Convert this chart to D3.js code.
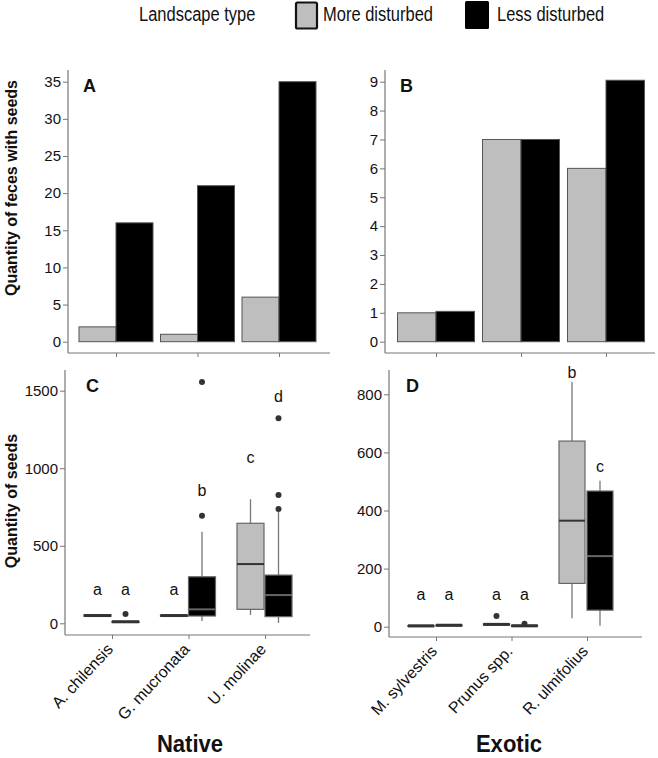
<!DOCTYPE html>
<html lang="en">
<head>
<meta charset="UTF-8">
<title>Seeds in feces</title>
<script src="https://d3js.org/d3.v7.min.js"></script>
<style>
    body { margin: 0; background: #fff; }
    text { font-family: "Liberation Sans", Arial, sans-serif; fill: #111; }
    .tick text { font-size: 15px; }
    .axis path { display: none; }
    .axis line { stroke: #777; }
</style>
</head>
<body>
<script>
    // categories
    let nativeSpecies = ["A. chilensis", "G. mucronata", "U. molinae"];
    let exoticSpecies = ["M. sylvestris", "Prunus spp.", "R. ulmifolius"];
    let landscapes = ["More disturbed", "Less disturbed"];

    // panel A / B: quantity of feces with seeds
    let fecesNativeMore = [2, 1, 6];
    let fecesNativeLess = [16, 21, 35];
    let fecesExoticMore = [1, 7, 6];
    let fecesExoticLess = [1.05, 7, 9.05];

    // panel C / D: quantity of seeds (box stats)
    let seedsNativeMore = [
        {min: 45, q1: 46, med: 50, q3: 54, max: 55, out: []},
        {min: 45, q1: 47, med: 50, q3: 52, max: 52, out: []},
        {min: 54, q1: 90, med: 382, q3: 645, max: 800, out: []}
    ];
    let seedsNativeLess = [
        {min: 6, q1: 8, med: 10, q3: 12, max: 13, out: [60]},
        {min: 15, q1: 47, med: 90, q3: 300, max: 591, out: [694, 1556]},
        {min: 2, q1: 43, med: 182, q3: 311, max: 720, out: [737, 828, 1322]}
    ];
    let seedsExoticMore = [
        {min: 2, q1: 2, med: 3, q3: 4, max: 4, out: []},
        {min: 5, q1: 6, med: 8, q3: 10, max: 10, out: [37]},
        {min: 29, q1: 149, med: 365, q3: 639, max: 843, out: []}
    ];
    let seedsExoticLess = [
        {min: 4, q1: 4, med: 5, q3: 6, max: 6, out: []},
        {min: 1, q1: 2, med: 3, q3: 5, max: 5, out: [10]},
        {min: 3, q1: 57, med: 243, q3: 467, max: 502, out: []}
    ];

    // significance letters: [more, less] and the value where they sit
    let lettersNative = [["a", "a"], ["a", "b"], ["c", "d"]];
    let lettersNativeAt = [[182, 182], [182, 821], [1034, 1428]];
    let lettersExotic = [["a", "a"], ["a", "a"], ["b", "c"]];
    let lettersExoticAt = [[92, 92], [92, 92], [856, 533]];

    let ticksA = d3.range(0, 36, 5);
    let ticksB = d3.range(0, 10, 1);
    let ticksC = [0, 500, 1000, 1500];
    let ticksD = [0, 200, 400, 600, 800];

    let grey = "#bebebe";
    let edge = "#555";

    let svg = d3.select("body").append("svg")
        .attr("width", 658)
        .attr("height", 758);

    // legend (text is a bit tall in the figure)
    let legend = svg.append("g");
    legend.append("text").attr("transform", "translate(139,21) scale(1,1.2)")
        .style("font-size", "16.5px").text("Landscape type");
    legend.append("rect").attr("x", 296).attr("y", 2.5).attr("width", 21).attr("height", 26)
        .attr("rx", 1.5)
        .style("fill", grey).style("stroke", "#111").style("stroke-width", 2.2);
    legend.append("text").attr("transform", "translate(323,21) scale(1,1.2)")
        .style("font-size", "16.5px").text(landscapes[0]);
    legend.append("rect").attr("x", 465).attr("y", 1).attr("width", 24).attr("height", 28)
        .attr("rx", 1.5)
        .style("fill", "#000");
    legend.append("text").attr("transform", "translate(497,21) scale(1,1.2)")
        .style("font-size", "16.5px").text(landscapes[1]);

    function drawAxes(p, ticks) {
        let g = svg.append("g");
        g.append("line").attr("x1", p.left).attr("x2", p.left).attr("y1", p.top).attr("y2", p.bottom)
            .style("stroke", "#777").style("stroke-width", 1.2);
        g.append("line").attr("x1", p.left).attr("x2", p.right).attr("y1", p.bottom).attr("y2", p.bottom)
            .style("stroke", "#777").style("stroke-width", 1.2);
        g.append("g").attr("class", "axis")
            .attr("transform", `translate(${p.left},0)`)
            .call(d3.axisLeft(p.y).tickValues(ticks).tickSize(5).tickPadding(2).tickFormat(d3.format("d")));
        g.append("g").attr("class", "axis")
            .attr("transform", `translate(0,${p.bottom})`)
            .call(d3.axisBottom(p.x).tickSize(4).tickFormat(""));
        g.append("text").attr("x", p.left + p.labelDx).attr("y", p.top + 22)
            .style("font-size", "18px").style("font-weight", "bold").text(p.label);
    }

    function drawBars(p, more, less, cats, w) {
        let data = cats.map((c, i) => ({c: c, more: more[i], less: less[i]}));
        let g = svg.append("g");
        g.selectAll(".more").data(data).enter().append("rect")
            .attr("x", d => p.x(d.c) - w)
            .attr("y", d => p.y(d.more))
            .attr("width", w)
            .attr("height", d => p.y(0) - p.y(d.more))
            .style("fill", grey).style("stroke", edge).style("stroke-width", 1);
        g.selectAll(".less").data(data).enter().append("rect")
            .attr("x", d => p.x(d.c))
            .attr("y", d => p.y(d.less))
            .attr("width", w)
            .attr("height", d => p.y(0) - p.y(d.less))
            .style("fill", "#000").style("stroke", edge).style("stroke-width", 1);
    }

    function drawBoxes(p, stats, cats, dx, w, fill, medColor) {
        let data = cats.map((c, i) => Object.assign({c: c}, stats[i]));
        let g = svg.append("g");
        let cx = d => p.x(d.c) + dx;
        let flat = d => p.y(d.q1) - p.y(d.q3) < 4;
        // whiskers
        g.selectAll(".wh").data(data).enter().append("line")
            .attr("x1", cx).attr("x2", cx)
            .attr("y1", d => p.y(d.min)).attr("y2", d => p.y(d.max))
            .style("stroke", "#777").style("stroke-width", 1.3);
        g.selectAll(".box").data(data).enter().append("rect")
            .attr("x", d => cx(d) - w / 2)
            .attr("y", d => p.y(d.q3))
            .attr("width", w)
            .attr("height", d => Math.max(1, p.y(d.q1) - p.y(d.q3)))
            .style("fill", fill).style("stroke", d => flat(d) ? "#333" : "#666")
            .style("stroke-width", 1.2);
        g.selectAll(".med").data(data).enter().append("line")
            .attr("x1", d => cx(d) - w / 2).attr("x2", d => cx(d) + w / 2)
            .attr("y1", d => p.y(d.med)).attr("y2", d => p.y(d.med))
            .style("stroke", d => flat(d) ? "#333" : medColor)
            .style("stroke-width", d => flat(d) ? 3 : 2);
        let outs = [];
        data.forEach(d => d.out.forEach(o => outs.push({c: d.c, v: o})));
        g.selectAll(".out").data(outs).enter().append("circle")
            .attr("cx", d => p.x(d.c) + dx)
            .attr("cy", d => p.y(d.v))
            .attr("r", 3)
            .style("fill", "#333");
    }

    function drawLetters(p, letters, at, cats, dxs) {
        let data = [];
        cats.forEach((c, i) => letters[i].forEach((l, j) => data.push({c: c, l: l, v: at[i][j], dx: dxs[j]})));
        svg.append("g").selectAll("text").data(data).enter().append("text")
            .attr("x", d => p.x(d.c) + d.dx)
            .attr("y", d => p.y(d.v))
            .attr("text-anchor", "middle")
            .style("font-size", "16px")
            .text(d => d.l);
    }

    function drawSpecies(p, cats) {
        svg.append("g").selectAll("text").data(cats).enter().append("text")
            .attr("transform", d => `translate(${p.x(d) + 2},${p.bottom + 15}) rotate(-47)`)
            .attr("text-anchor", "end")
            .style("font-size", "16px")
            .text(d => d);
    }

    // panel A
    let pA = {left: 68, right: 330, top: 70, bottom: 353, label: "A", labelDx: 15};
    pA.y = d3.scaleLinear().domain([0, 35]).range([341.7, 81.7]);
    pA.x = d3.scalePoint().domain(nativeSpecies).range([116, 279]);
    drawAxes(pA, ticksA);
    drawBars(pA, fecesNativeMore, fecesNativeLess, nativeSpecies, 37);

    // panel B
    let pB = {left: 385, right: 655, top: 70, bottom: 353, label: "B", labelDx: 15};
    pB.y = d3.scaleLinear().domain([0, 9]).range([341.7, 81.7]);
    pB.x = d3.scalePoint().domain(exoticSpecies).range([436, 606]);
    drawAxes(pB, ticksB);
    drawBars(pB, fecesExoticMore, fecesExoticLess, exoticSpecies, 38.5);

    // panel C
    let pC = {left: 65, right: 310, top: 370, bottom: 635, label: "C", labelDx: 21};
    pC.y = d3.scaleLinear().domain([0, 1500]).range([623.3, 390.7]);
    pC.x = d3.scalePoint().domain(nativeSpecies).range([112, 265]);
    drawAxes(pC, ticksC);
    drawBoxes(pC, seedsNativeMore, nativeSpecies, -14.5, 27, grey, "#333");
    drawBoxes(pC, seedsNativeLess, nativeSpecies, 13.5, 27, "#000", "#666");
    drawLetters(pC, lettersNative, lettersNativeAt, nativeSpecies, [-14.5, 13.5]);
    drawSpecies(pC, nativeSpecies);

    // panel D
    let pD = {left: 389, right: 642, top: 370, bottom: 637, label: "D", labelDx: 17};
    pD.y = d3.scaleLinear().domain([0, 800]).range([626.7, 394.3]);
    pD.x = d3.scalePoint().domain(exoticSpecies).range([436, 587]);
    drawAxes(pD, ticksD);
    drawBoxes(pD, seedsExoticMore, exoticSpecies, -15, 26, grey, "#333");
    drawBoxes(pD, seedsExoticLess, exoticSpecies, 13, 26, "#000", "#666");
    drawLetters(pD, lettersExotic, lettersExoticAt, exoticSpecies, [-15, 13]);
    drawSpecies(pD, exoticSpecies);

    // y titles
    svg.append("text").attr("transform", "translate(17,188) rotate(-90)")
        .attr("text-anchor", "middle").style("font-size", "16px").style("font-weight", "bold")
        .text("Quantity of feces with seeds");
    svg.append("text").attr("transform", "translate(17,501) rotate(-90)")
        .attr("text-anchor", "middle").style("font-size", "16px").style("font-weight", "bold")
        .text("Quantity of seeds");

    // group titles (condensed, as in the figure)
    svg.append("text").attr("transform", "translate(190,752) scale(0.92,1)").attr("text-anchor", "middle")
        .style("font-size", "24px").style("font-weight", "bold").text("Native");
    svg.append("text").attr("transform", "translate(509,752) scale(0.92,1)").attr("text-anchor", "middle")
        .style("font-size", "24px").style("font-weight", "bold").text("Exotic");
</script>
</body>
</html>
